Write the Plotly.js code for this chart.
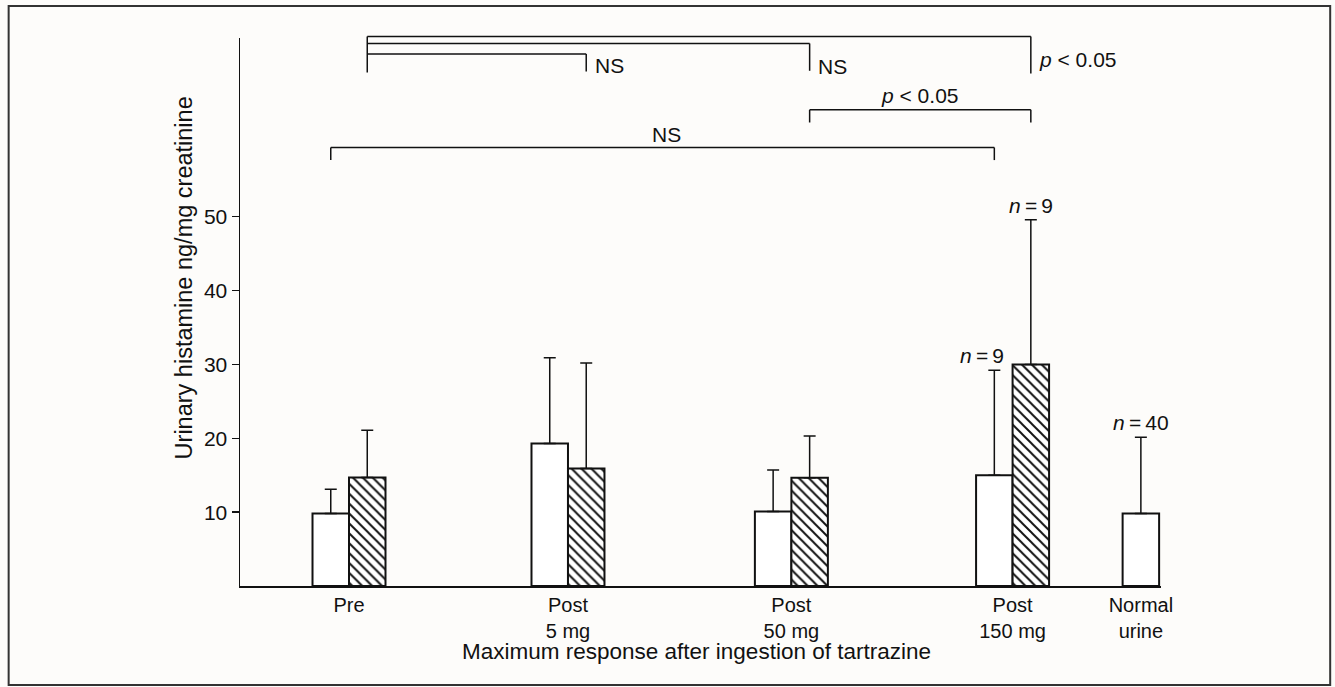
<!DOCTYPE html>
<html>
<head>
<meta charset="utf-8">
<script src="https://cdn.plot.ly/plotly-3.0.1.min.js"></script>
<style>
  html, body { margin: 0; padding: 0; background: #fdfcfa; }
  #chart { width: 1335px; height: 687px; }
</style>
</head>
<body>
<div id="chart"></div>
<script>
// ---- Data ----
const categories = ['Pre', 'Post<br>5 mg', 'Post<br>50 mg', 'Post<br>150 mg', 'Normal<br>urine'];
const catPos = [0, 0.99, 2.0, 3.0, 3.58];           // category positions on the x axis
const openMeans = [9.8, 19.3, 10.1, 15.0, 9.8];      // open bars
const openErrTop = [13.1, 30.9, 15.7, 29.2, 20.15];  // top of error bars (open)
const hatchMeans = [14.7, 15.9, 14.65, 30.0];        // hatched bars (no Normal)
const hatchErrTop = [21.1, 30.2, 20.3, 49.6];        // top of error bars (hatched)
const nLabels = ['<i>n</i>\u2009=\u20099', '<i>n</i>\u2009=\u20099', '<i>n</i>\u2009=\u200940'];
const yTicks = [10, 20, 30, 40, 50];

// ---- Geometry / style ----
const W = 0.165;            // bar width in x units
const X_RANGE = [-0.4928, 3.671];
const Y_MAX = 74.2;
const FONT = 'Liberation Sans, Arial, Helvetica, sans-serif';
const INK = '#111111';

const openX = catPos.map((p, i) => i < 4 ? p - W / 2 : p);
const hatchX = catPos.slice(0, 4).map(p => p + W / 2);

const openTrace = {
  type: 'bar',
  x: openX,
  y: openMeans,
  width: W,
  cliponaxis: false,
  marker: { color: '#ffffff', line: { color: INK, width: 2 } },
  error_y: {
    type: 'data', symmetric: false,
    array: openErrTop.map((t, i) => t - openMeans[i]),
    arrayminus: openMeans.map(() => 0),
    color: INK, thickness: 1.5, width: 6
  },
  hoverinfo: 'skip', showlegend: false
};

const hatchTrace = {
  type: 'bar',
  x: hatchX,
  y: hatchMeans,
  width: W,
  cliponaxis: false,
  marker: {
    color: '#ffffff',
    line: { color: INK, width: 2 },
    pattern: { shape: '\\', fgcolor: INK, bgcolor: '#ffffff', size: 7, solidity: 0.28 }
  },
  error_y: {
    type: 'data', symmetric: false,
    array: hatchErrTop.map((t, i) => t - hatchMeans[i]),
    arrayminus: hatchMeans.map(() => 0),
    color: INK, thickness: 1.5, width: 6
  },
  hoverinfo: 'skip', showlegend: false
};

// y in data units converted to paper (so brackets above the axis top are not clipped)
const yp = v => v / Y_MAX;
const lineStyle = { color: INK, width: 1.5 };
function seg(x0, y0, x1, y1) {
  return { type: 'line', xref: 'x', yref: 'paper', x0: x0, x1: x1, y0: yp(y0), y1: yp(y1), line: lineStyle };
}

const preH = hatchX[0], p5H = hatchX[1], p50H = hatchX[2], p150H = hatchX[3];
const preO = openX[0], p150O = openX[3];

const shapes = [
  // common left leg of the three upper brackets
  seg(preH, 74.41, preH, 69.53),
  // Pre vs Post 5 mg
  seg(preH, 72.03, p5H, 72.03), seg(p5H, 72.03, p5H, 69.67),
  // Pre vs Post 50 mg
  seg(preH, 73.46, p50H, 73.46), seg(p50H, 73.46, p50H, 69.76),
  // Pre vs Post 150 mg
  seg(preH, 74.41, p150H, 74.41), seg(p150H, 74.41, p150H, 69.4),
  // Post 50 vs Post 150
  seg(p50H, 64.48, p150H, 64.48), seg(p50H, 64.48, p50H, 62.76), seg(p150H, 64.48, p150H, 62.76),
  // open Pre vs open Post 150
  seg(preO, 59.37, p150O, 59.37), seg(preO, 59.37, preO, 57.67), seg(p150O, 59.37, p150O, 57.67),
  // outer frame
  { type: 'rect', xref: 'paper', yref: 'paper', x0: -0.2512, x1: 1.1837, y0: -0.1807, y1: 1.0584,
    line: { color: '#333333', width: 2 } }
];

const tf = { family: FONT, size: 21, color: INK };
function note(text, x, y, xanchor, extra) {
  return Object.assign({ text: text, x: x, xref: 'x', y: yp(y), yref: 'paper',
    xanchor: xanchor, yanchor: 'middle', showarrow: false, font: tf }, extra || {});
}

const annotations = [
  note('NS', p5H + 0.03, 70.5, 'left'),
  note('NS', p50H + 0.03, 70.3, 'left'),
  note('<i>p</i> &lt; 0.05', p150H + 0.03, 71.35, 'left'),
  note('<i>p</i> &lt; 0.05', (p50H + p150H) / 2, 66.4, 'center'),
  note('NS', 1.436, 61.2, 'center'),
  // n labels
  { text: nLabels[0], x: openX[3], y: openErrTop[3], xref: 'x', yref: 'y', xanchor: 'center', yanchor: 'bottom',
    xshift: -12, yshift: 1, showarrow: false, font: tf },
  { text: nLabels[1], x: hatchX[3], y: hatchErrTop[3], xref: 'x', yref: 'y', xanchor: 'center', yanchor: 'bottom',
    yshift: 1, showarrow: false, font: tf },
  { text: nLabels[2], x: openX[4], y: openErrTop[4], xref: 'x', yref: 'y', xanchor: 'center', yanchor: 'bottom',
    yshift: 1, showarrow: false, font: tf },
  // axis titles
  { text: 'Urinary histamine ng/mg creatinine', xref: 'paper', yref: 'paper', x: -0.0598, y: 0.563,
    textangle: -90, xanchor: 'center', yanchor: 'middle', showarrow: false,
    font: { family: FONT, size: 23.5, color: INK } },
  { text: 'Maximum response after ingestion of tartrazine', xref: 'paper', yref: 'paper', x: 0.496, y: -0.12,
    xanchor: 'center', yanchor: 'middle', showarrow: false,
    font: { family: FONT, size: 22.5, color: INK } }
];

const layout = {
  width: 1335, height: 687,
  margin: { l: 240, r: 174, t: 38, b: 101 },
  paper_bgcolor: '#fdfcfa', plot_bgcolor: 'rgba(0,0,0,0)',
  barmode: 'overlay',
  showlegend: false,
  xaxis: {
    range: X_RANGE, showgrid: false, zeroline: false,
    showline: true, linecolor: INK, linewidth: 1.5,
    ticks: '', tickvals: catPos, ticktext: categories,
    tickfont: { family: FONT, size: 20, color: INK }
  },
  yaxis: {
    range: [0, Y_MAX], showgrid: false, zeroline: false,
    showline: true, linecolor: INK, linewidth: 1.5,
    ticks: 'outside', ticklen: 7, tickwidth: 1.5, tickcolor: INK,
    tickvals: yTicks, ticktext: yTicks.map(String),
    tickfont: { family: FONT, size: 21, color: INK }
  },
  shapes: shapes,
  annotations: annotations
};

Plotly.newPlot('chart', [openTrace, hatchTrace], layout, { displayModeBar: false, staticPlot: true });
</script>
</body>
</html>
